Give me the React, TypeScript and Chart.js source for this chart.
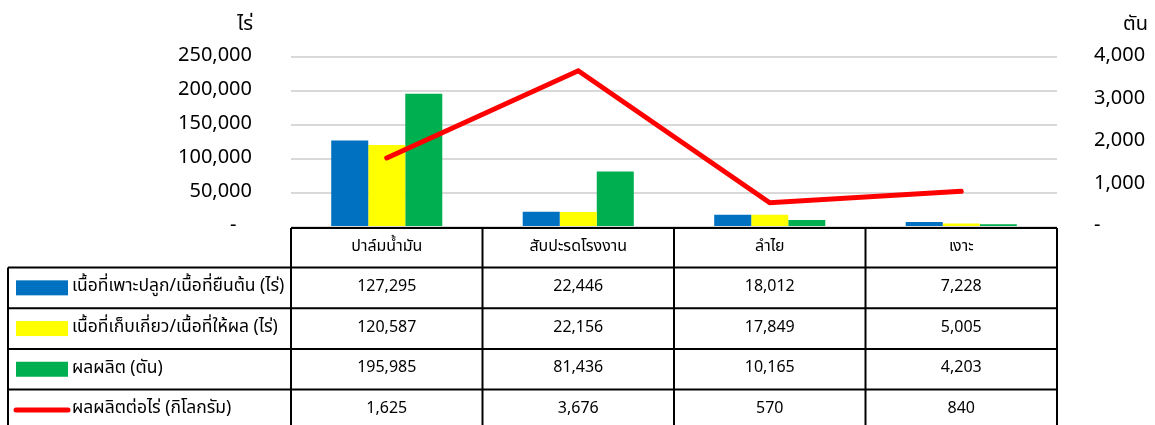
import React, { useEffect, useRef } from "react";
import { Chart, registerables } from "chart.js";

Chart.register(...registerables);

const categories = ["ปาล์มน้ำมัน", "สับปะรดโรงงาน", "ลำไย", "เงาะ"];
const seriesLabels = [
  "เนื้อที่เพาะปลูก/เนื้อที่ยืนต้น (ไร่)",
  "เนื้อที่เก็บเกี่ยว/เนื้อที่ให้ผล (ไร่)",
  "ผลผลิต (ตัน)",
  "ผลผลิตต่อไร่ (กิโลกรัม)",
];
const plantedArea = [127295, 22446, 18012, 7228];
const harvestedArea = [120587, 22156, 17849, 5005];
const production = [195985, 81436, 10165, 4203];
const yieldPerRai = [1625, 3676, 570, 840];
const leftUnit = "ไร่";
const rightUnit = "ตัน";
const colors = ["#0070C0", "#FFFF00", "#00B050", "#FF0000"];

const FONT = '"Tahoma", "Leelawadee UI", "Noto Sans Thai", "DejaVu Sans", sans-serif';
const fmt = (v: number) => (v === 0 ? "-" : v.toLocaleString("en-US"));

const tablePlugin = {
  id: "dataTable",
  afterDraw(chart: any) {
    const ctx = chart.ctx as CanvasRenderingContext2D;
    const area = chart.chartArea;
    const n = categories.length;
    const colW = (area.right - area.left) / n;
    const xs: number[] = [];
    for (let i = 0; i <= n; i++) xs.push(area.left + i * colW);
    const top = area.bottom + 1;
    const headerB = top + 39.5;
    const rowH = 40.7;
    const rows = [headerB, headerB + rowH, headerB + 2 * rowH, headerB + 3 * rowH, headerB + 4 * rowH];
    const leftX = 8;
    const bottom = 440;
    ctx.save();

    // units
    ctx.fillStyle = "#000";
    ctx.font = `20px ${FONT}`;
    ctx.textBaseline = "alphabetic";
    ctx.textAlign = "right";
    ctx.fillText(leftUnit, 253, 30);
    ctx.fillText(rightUnit, 1148, 30);

    // grid lines
    ctx.strokeStyle = "#000";
    ctx.lineWidth = 2;
    ctx.beginPath();
    ctx.moveTo(xs[0], top);
    ctx.lineTo(xs[n], top);
    for (let r = 0; r < 4; r++) {
      ctx.moveTo(leftX, rows[r]);
      ctx.lineTo(xs[n], rows[r]);
    }
    for (let i = 0; i <= n; i++) {
      ctx.moveTo(xs[i], top);
      ctx.lineTo(xs[i], bottom);
    }
    ctx.moveTo(leftX, rows[0]);
    ctx.lineTo(leftX, bottom);
    ctx.stroke();

    // header
    ctx.font = `16px ${FONT}`;
    ctx.textAlign = "center";
    ctx.textBaseline = "middle";
    ctx.fillStyle = "#000";
    for (let i = 0; i < n; i++) {
      ctx.fillText(categories[i], xs[i] + colW / 2, (top + headerB) / 2);
    }
    const seriesData = [plantedArea, harvestedArea, production, yieldPerRai];
    for (let r = 0; r < 4; r++) {
      const yc = (rows[r] + rows[r] + rowH) / 2;
      ctx.font = `16px ${FONT}`;
      ctx.textAlign = "center";
      ctx.fillStyle = "#000";
      for (let i = 0; i < n; i++) {
        ctx.fillText(fmt(seriesData[r][i]), xs[i] + colW / 2, yc);
      }
      // legend key
      if (r < 3) {
        ctx.fillStyle = colors[r];
        ctx.fillRect(16, yc - 7.5, 52, 15);
      } else {
        ctx.strokeStyle = colors[3];
        ctx.lineWidth = 5;
        ctx.lineCap = "round";
        ctx.beginPath();
        ctx.moveTo(16, yc);
        ctx.lineTo(68, yc);
        ctx.stroke();
      }
      ctx.font = `17.5px ${FONT}`;
      ctx.fillStyle = "#000";
      ctx.textAlign = "left";
      ctx.fillText(seriesLabels[r], 72, yc);
    }
    ctx.restore();
  },
};

export default function App() {
  const ref = useRef<HTMLCanvasElement>(null);
  useEffect(() => {
    if (!ref.current) return;
    const barCommon = {
      type: "bar" as const,
      yAxisID: "y",
      categoryPercentage: 0.58,
      barPercentage: 1,
      order: 1,
    };
    const chart = new Chart(ref.current, {
      type: "bar",
      data: {
        labels: categories,
        datasets: [
          { ...barCommon, label: seriesLabels[0], data: plantedArea, backgroundColor: colors[0] },
          { ...barCommon, label: seriesLabels[1], data: harvestedArea, backgroundColor: colors[1] },
          { ...barCommon, label: seriesLabels[2], data: production, backgroundColor: colors[2] },
          {
            type: "line",
            label: seriesLabels[3],
            data: yieldPerRai,
            yAxisID: "y1",
            borderColor: colors[3],
            backgroundColor: colors[3],
            borderWidth: 5,
            borderCapStyle: "round",
            pointRadius: 0,
            tension: 0,
            order: 0,
          } as any,
        ],
      },
      options: {
        animation: false,
        responsive: true,
        maintainAspectRatio: false,
        layout: { padding: { top: 57, bottom: 198, left: 0, right: 0 } },
        plugins: { legend: { display: false }, tooltip: { enabled: false } },
        scales: {
          x: { display: false, offset: true },
          y: {
            position: "left",
            min: 0,
            max: 250000,
            border: { display: false },
            grid: { color: "#d9d9d9", lineWidth: 2, drawTicks: false },
            ticks: {
              stepSize: 50000,
              padding: 39,
              color: "#000",
              font: { size: 20, family: FONT },
              callback: (v: any) => (Number(v) === 0 ? "-   " : Number(v).toLocaleString("en-US")),
            },
            afterFit: (s: any) => {
              s.width = 291;
            },
          },
          y1: {
            position: "right",
            min: 0,
            max: 4000,
            border: { display: false },
            grid: { display: false, drawTicks: false },
            ticks: {
              stepSize: 1000,
              padding: 37,
              color: "#000",
              font: { size: 20, family: FONT },
              callback: (v: any) => (Number(v) === 0 ? "-" : Number(v).toLocaleString("en-US")),
            },
            afterFit: (s: any) => {
              s.width = 98;
            },
          },
        },
      },
      plugins: [tablePlugin],
    });
    return () => chart.destroy();
  }, []);
  return (
    <div style={{ position: "fixed", left: 0, top: 0, width: 1155, height: 425, background: "#fff" }}>
      <canvas ref={ref} />
    </div>
  );
}
